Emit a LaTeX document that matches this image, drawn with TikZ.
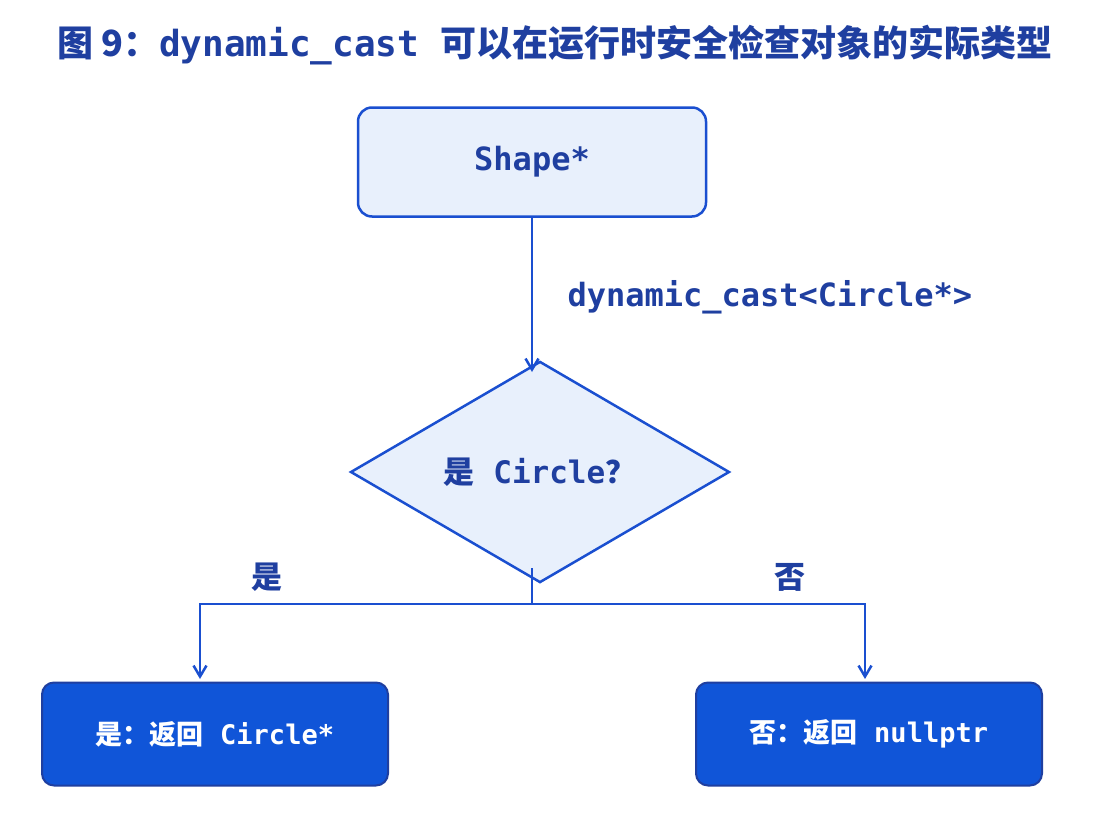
\documentclass[tikz,border=0pt]{standalone}
\usepackage{fontspec}
\setmonofont{DejaVu Sans Mono}
\newfontfamily\cjk{Noto Sans CJK SC}
\usetikzlibrary{shapes.geometric,arrows.meta}
\definecolor{edge}{HTML}{1A4FD0}
\definecolor{lite}{HTML}{E8F0FC}
\definecolor{ink}{HTML}{1F3FA0}
\definecolor{deep}{HTML}{1055D8}
\begin{document}
\begin{tikzpicture}[x=1pt,y=-1pt,
  txt/.style={text=ink,font=\ttfamily\bfseries\fontsize{31}{36}\selectfont},
  box/.style={draw=edge,line width=2.5pt,rounded corners=14pt,fill=lite,inner sep=0},
  res/.style={draw=ink,line width=2pt,rounded corners=12pt,fill=deep,inner sep=0,minimum width=346pt,minimum height=103pt,text=white,font=\ttfamily\bfseries\fontsize{27}{32}\selectfont},
  con/.style={draw=edge,line width=2.5pt},
  arr/.style={con,-{Straight Barb[length=11pt,width=13pt]}}]
\useasboundingbox (0,0) rectangle (1100,825);
\node[text=ink,font=\fontsize{36}{40}\selectfont] (title) at (555,45) {{\cjk\bfseries 图 9：}\ttfamily\bfseries dynamic\_cast {\cjk\bfseries 可以在运行时安全检查对象的实际类型}};
\node[box,minimum width=348pt,minimum height=109pt,txt,font=\ttfamily\bfseries\fontsize{32}{36}\selectfont] (shape) at (532,162) {Shape*};
\node[draw=edge,line width=2.5pt,fill=lite,shape=diamond,minimum width=379pt,minimum height=196pt,inner sep=0,txt] (dia) at (540,472) {{\cjk\bfseries 是} Circle{\cjk\bfseries ？}};
\draw[arr] (shape.south) -- (532,372);
\node[txt,anchor=west,font=\ttfamily\bfseries\fontsize{32}{36}\selectfont] (lab) at (564,297) {dynamic\_cast<Circle*>};
\node[res] (yes) at (215,734) {{\cjk\bfseries 是：返回} Circle*};
\node[res] (no) at (869,734) {{\cjk\bfseries 否：返回} nullptr};
\coordinate (j) at (532,604);
\coordinate (jl) at (200,604);
\coordinate (jr) at (865,604);
\coordinate (tl) at (200,679);
\coordinate (tr) at (865,679);
\draw[con] (532,568) -- (j);
\draw[arr] (j) -- (jl) -- (tl);
\draw[arr] (j) -- (jr) -- (tr);
\node[text=ink,font=\cjk\bfseries\fontsize{31}{36}\selectfont] (ly) at (267,577) {是};
\node[text=ink,font=\cjk\bfseries\fontsize{31}{36}\selectfont] (ln) at (790,577) {否};
\end{tikzpicture}
\end{document}
